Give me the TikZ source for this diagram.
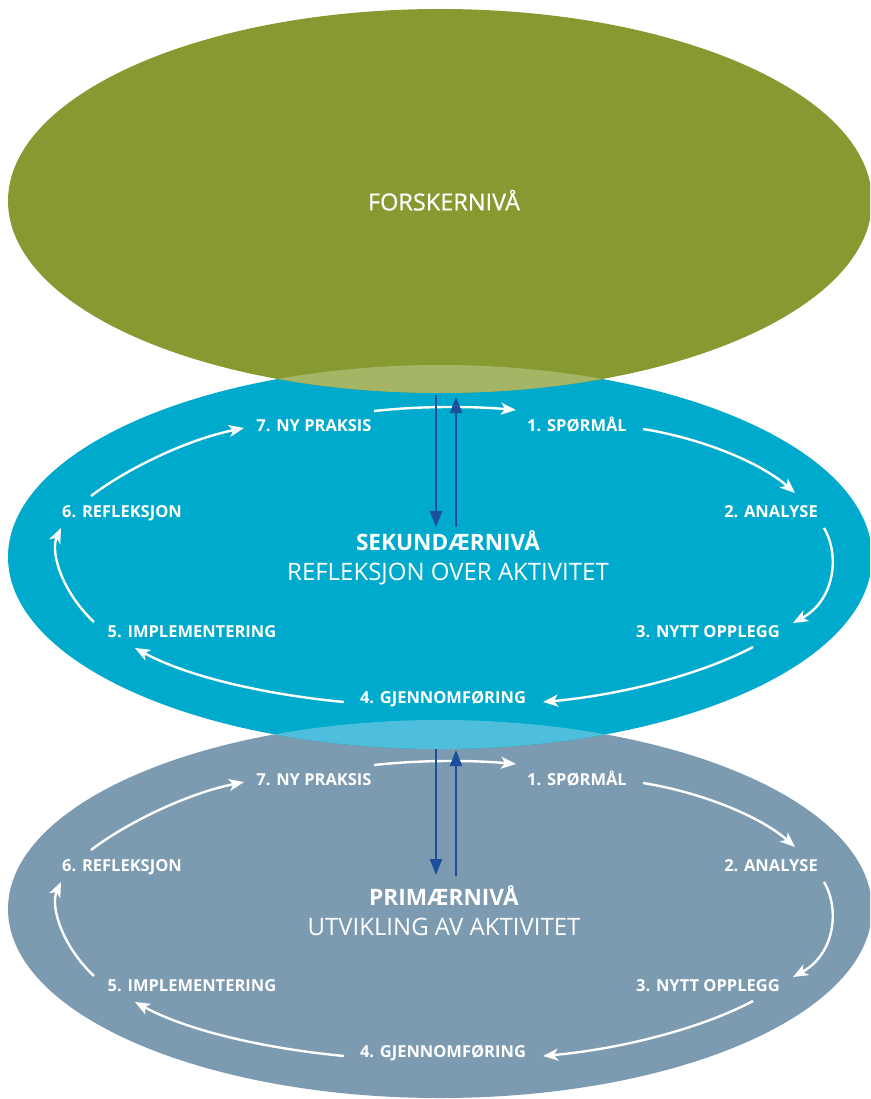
\documentclass[tikz,border=0pt]{standalone}
\usepackage{fontspec}
\setmainfont{Open Sans}
\newfontfamily\medfont[FakeBold=0.6]{Open Sans}
\usetikzlibrary{arrows.meta,calc}
\definecolor{grn}{HTML}{879A32}
\definecolor{cyanb}{HTML}{00AACD}
\definecolor{grayb}{HTML}{7C9AB0}
\definecolor{olivelt}{HTML}{A4B565}
\definecolor{cyanlt}{HTML}{4DBEDC}
\definecolor{navy}{HTML}{1B4F9C}
\newcommand\cyclelevel[2]{%
  \node[lbl] (#1a) at (577,{426+#2}) {1. SPØRMÅL};
  \node[lbl] (#1b) at (771,{512+#2}) {2. ANALYSE};
  \node[lbl] (#1c) at (708,{632+#2}) {3. NYTT OPPLEGG};
  \node[lbl] (#1d) at (443,{698+#2}) {4. GJENNOMFØRING};
  \node[lbl] (#1e) at (192,{632+#2}) {5. IMPLEMENTERING};
  \node[lbl] (#1f) at (122,{512+#2}) {6. REFLEKSJON};
  \node[lbl] (#1g) at (314,{426+#2}) {7. NY PRAKSIS};
  \draw[flow] ($(#1g)+(60,-15)$) .. controls ($(#1g)+(106,-20)$) and ($(#1a)+(-107,-20)$) .. ($(#1a)+(-61,-16)$);
  \draw[flow] ($(#1a)+(66,3)$) .. controls ($(#1a)+(123,12)$) and ($(#1b)+(-11,-50)$) .. ($(#1b)+(24,-19)$);
  \draw[flow] ($(#1b)+(53,16)$) .. controls ($(#1b)+(69,43)$) and ($(#1c)+(127,-32)$) .. ($(#1c)+(85,-9)$);
  \draw[flow] ($(#1c)+(45,15)$) .. controls ($(#1c)+(-8,43)$) and ($(#1d)+(177,-3)$) .. ($(#1d)+(100,4)$);
  \draw[flow] ($(#1d)+(-99,4)$) .. controls ($(#1d)+(-173,-3)$) and ($(#1e)+(-2,46)$) .. ($(#1e)+(-57,16)$);
  \draw[flow] ($(#1e)+(-98,-10)$) .. controls ($(#1e)+(-130,-40)$) and ($(#1f)+(-72,40)$) .. ($(#1f)+(-61,16)$);
  \draw[flow] ($(#1f)+(-31,-16)$) .. controls ($(#1f)+(3,-42)$) and ($(#1g)+(-129,14)$) .. ($(#1g)+(-70,2)$);
}
\begin{document}
\begin{tikzpicture}[x=1pt,y=-1pt,
  lbl/.style={text=white,font=\fontsize{16.5}{18}\selectfont\bfseries,inner sep=0pt,text height=11.8pt,text depth=0pt},
  titlebold/.style={text=white,font=\fontsize{22.6}{24}\selectfont\bfseries,inner sep=0pt,text height=16.1pt,text depth=0pt},
  titlereg/.style={text=white,font=\fontsize{24}{26}\selectfont,inner sep=0pt,text height=17.1pt,text depth=0pt},
  flow/.style={white,line width=2.4pt,-{Stealth[length=15pt,width=12pt,inset=4pt]}},
  link/.style={navy,line width=2.2pt,-{Triangle[length=16pt,width=12pt]}}]
\useasboundingbox (0,0) rectangle (870,1099);
\begin{scope}
  \clip (0,0) rectangle (870,1099);
  \fill[grayb] (440,909) ellipse [x radius=432pt,y radius=189pt];
  \fill[cyanb] (440,557) ellipse [x radius=432pt,y radius=192pt];
  \fill[grn] (440,201) ellipse [x radius=432pt,y radius=192pt];
  \begin{scope}
    \clip (440,201) ellipse [x radius=432pt,y radius=192pt];
    \fill[olivelt] (440,557) ellipse [x radius=432pt,y radius=192pt];
  \end{scope}
  \begin{scope}
    \clip (440,557) ellipse [x radius=432pt,y radius=192pt];
    \fill[cyanlt] (440,909) ellipse [x radius=432pt,y radius=189pt];
  \end{scope}
\end{scope}
\coordinate (gbot) at (440,393);
\coordinate (bbot) at (440,749);
\node[text=white,font=\medfont\fontsize{23.5}{26}\selectfont,inner sep=0pt,text height=16.8pt,text depth=0pt] (forsker) at (444,202) {FORSKERNIVÅ};
\node[titlebold] (sek) at (448,542) {SEKUNDÆRNIVÅ};
\node[titlereg] (sek2) at (448,571.5) {REFLEKSJON OVER AKTIVITET};
\node[titlebold] (prim) at (444,897) {PRIMÆRNIVÅ};
\node[titlereg] (prim2) at (444,927) {UTVIKLING AV AKTIVITET};
\cyclelevel{m}{0}
\cyclelevel{p}{354}
\draw[link] ($(gbot)+(-4,2)$) -- ($(sek)+(-12,-15)$);
\draw[link] ($(sek)+(8,-15)$) -- ($(gbot)+(16,4)$);
\draw[link] ($(bbot)+(-4,0)$) -- ($(prim)+(-8,-22)$);
\draw[link] ($(prim)+(12,-21)$) -- ($(bbot)+(16,1)$);
\end{tikzpicture}
\end{document}
